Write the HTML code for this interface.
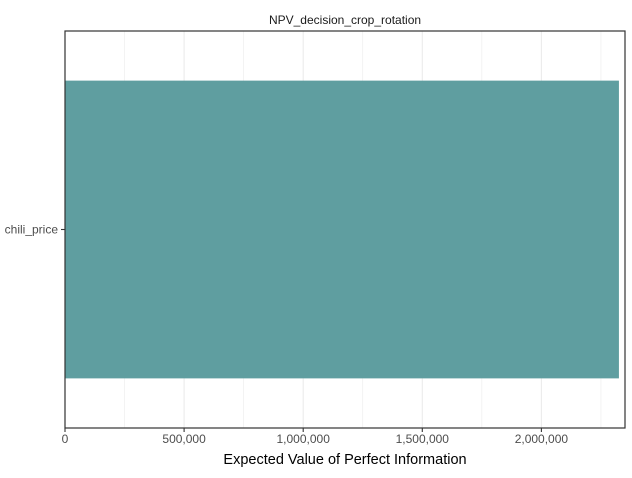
<!DOCTYPE html>
<html><head><meta charset="utf-8"><style>
body{margin:0;background:#fff;font-family:"Liberation Sans",Arial,sans-serif}
</style></head><body>
<svg width="632" height="473" xmlns="http://www.w3.org/2000/svg">
<g id="grid"></g>
<g id="bars"></g>
<rect x="65" y="31" width="560" height="397" fill="none" stroke="#333" stroke-width="1.2"/>
<g id="axes"></g>
<text x="345" y="24" text-anchor="middle" font-size="12" fill="#1a1a1a">NPV_decision_crop_rotation</text>
<text x="345" y="464" text-anchor="middle" font-size="14.5" fill="#000">Expected Value of Perfect Information</text>
</svg>
<script>
const categories=["chili_price"];
const values=[2325500];
const xTicks=[0,500000,1000000,1500000,2000000];
const xTickLabels=["0","500,000","1,000,000","1,500,000","2,000,000"];
const xMinor=[250000,750000,1250000,1750000,2250000];
const L=65,R=625,T=31,B=428,xmax=2351000;
const xs=v=>L+(v/xmax)*(R-L);
const ns="http://www.w3.org/2000/svg";
const grid=document.getElementById('grid'),bars=document.getElementById('bars'),axes=document.getElementById('axes');
function mk(tag,attrs,parent){const e=document.createElementNS(ns,tag);for(const k in attrs)e.setAttribute(k,attrs[k]);parent.appendChild(e);return e;}
xMinor.forEach(v=>{const l=mk('line',{x1:xs(v),x2:xs(v),y1:T,y2:B,stroke:'#ebebeb','stroke-width':0.6},grid);

});
xTicks.forEach((v,i)=>{const l=mk('line',{x1:xs(v),x2:xs(v),y1:T,y2:B,stroke:'#ebebeb','stroke-width':1.1},grid);


const t=mk('line',{x1:xs(v),x2:xs(v),y1:B,y2:B+4,stroke:'#333','stroke-width':1.1},axes);


const tx=mk('text',{x:xs(v),y:B+15,'text-anchor':'middle','font-size':12,fill:'#4d4d4d'},axes);tx.textContent=xTickLabels[i];

});
const n=categories.length,band=(B-T)/n;
categories.forEach((c,i)=>{const cy=T+band*(i+0.5),h=band*0.75;
const r=mk('rect',{x:xs(0),y:cy-h/2,width:xs(values[i])-xs(0),height:h,fill:'#5f9ea0'},bars);


const t=mk('line',{x1:L-4,x2:L,y1:cy,y2:cy,stroke:'#333','stroke-width':1.1},axes);


const tx=mk('text',{x:L-7,y:cy+4,'text-anchor':'end','font-size':12,fill:'#4d4d4d'},axes);tx.textContent=c;

});
</script>
</body></html>
